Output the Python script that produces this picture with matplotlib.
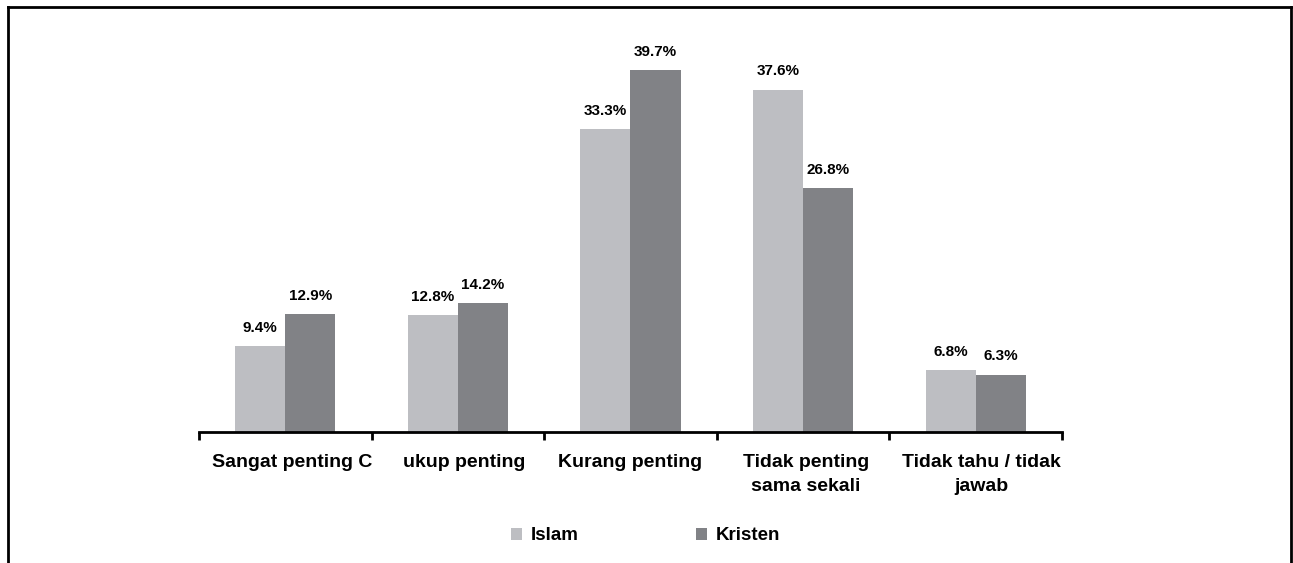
import numpy as np
import matplotlib
matplotlib.use("Agg")
import matplotlib.pyplot as plt
import matplotlib.transforms as mtransforms
from matplotlib.lines import Line2D

plt.rcParams["font.family"] = ["Liberation Sans", "DejaVu Sans"]

kategori = ["Sangat penting C", "ukup penting", "Kurang penting",
            "Tidak penting\nsama sekali", "Tidak tahu / tidak\njawab"]
islam = [9.4, 12.8, 33.3, 37.6, 6.8]
kristen = [12.9, 14.2, 39.7, 26.8, 6.3]
seri = ["Islam", "Kristen"]
warna = ["#bdbec2", "#818286"]

fig = plt.figure(figsize=(12.93, 5.63), dpi=100)
ax = fig.add_axes([0.1539, 0.2327, 0.6674, 0.728])

x = np.arange(len(kategori))
w = 0.29
b1 = ax.bar(x - w / 2, islam, w, color=warna[0], label=seri[0])
b2 = ax.bar(x + w / 2, kristen, w, color=warna[1], label=seri[1])

for bars, vals in [(b1, islam), (b2, kristen)]:
    for b, v in zip(bars, vals):
        ax.annotate(f"{v:.1f}%", (b.get_x() + b.get_width() / 2, v),
                    xytext=(0, 8), textcoords="offset points",
                    ha="center", va="bottom", fontsize=11, fontweight="bold")

ax.set_xlim(-0.5, len(kategori) - 0.5)
ax.set_ylim(0, 45)
ax.set_xticks(x)
ax.set_xticklabels(kategori, fontsize=14, fontweight="bold", linespacing=1.55)
ax.tick_params(axis="x", which="major", length=0, pad=16)
ax.set_xticks(np.arange(-0.5, len(kategori)), minor=True)
ax.tick_params(axis="x", which="minor", length=6, width=2, direction="out")
ax.set_yticks([])
for s in ["top", "right", "left"]:
    ax.spines[s].set_visible(False)
ax.spines["bottom"].set_linewidth(2)

# label di gambar asli sedikit bergeser ke kanan
geser = [7, 6, 0, 3, 6]
for lbl, dx in zip(ax.get_xticklabels(), geser):
    lbl.set_transform(lbl.get_transform() +
                      mtransforms.ScaledTranslation(dx / 100, 0, fig.dpi_scale_trans))

ax.legend(loc="center", bbox_to_anchor=(0.4992, 0.048), bbox_transform=fig.transFigure,
          ncol=2, frameon=False, handlelength=0.59, handleheight=0.59,
          columnspacing=6.3, handletextpad=0.43, prop={"weight": "bold", "size": 13.5})

# bingkai luar
x0, x1, y1 = 8 / 1293, 1291 / 1293, 1 - 7 / 563
for xs, ys in [([x0, x0], [0, y1]), ([x0, x1], [y1, y1]), ([x1, x1], [0, y1])]:
    fig.add_artist(Line2D(xs, ys, color="black", linewidth=2, transform=fig.transFigure))

plt.savefig("out.png", dpi=100)
plt.close()
